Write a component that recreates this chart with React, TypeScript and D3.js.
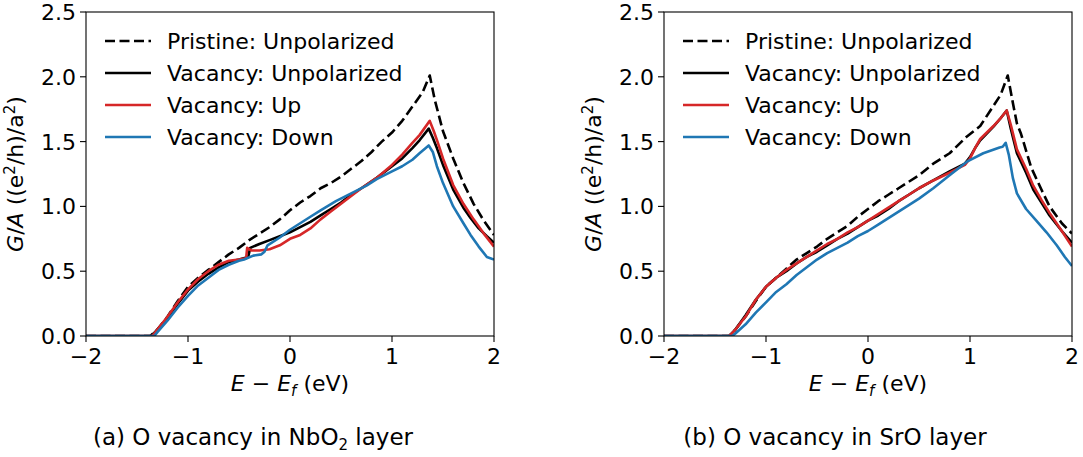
import React from "react";
import * as d3 from "d3";

// ---------- Data: panel (a) O vacancy in NbO2 layer ----------
const A_PRIS_E = [-2, -1.37, -1.3, -1.2, -1.1, -1.0, -0.9, -0.8, -0.7, -0.6, -0.5, -0.4, -0.3, -0.2, -0.1, 0, 0.1, 0.2, 0.3, 0.4, 0.5, 0.6, 0.7, 0.8, 0.9, 1.0, 1.1, 1.2, 1.3, 1.37, 1.42, 1.5, 1.6, 1.7, 1.8, 1.9, 2.0];
const A_PRIS_G = [0, 0, 0.05, 0.15, 0.27, 0.38, 0.45, 0.51, 0.57, 0.63, 0.68, 0.74, 0.79, 0.84, 0.9, 0.97, 1.03, 1.08, 1.14, 1.18, 1.23, 1.29, 1.35, 1.42, 1.5, 1.57, 1.66, 1.77, 1.88, 2.01, 1.82, 1.58, 1.37, 1.18, 1.02, 0.89, 0.78];

const A_UNP_E = [-2, -1.36, -1.3, -1.2, -1.1, -1.0, -0.9, -0.8, -0.7, -0.6, -0.5, -0.41, -0.39, -0.3, -0.2, -0.1, 0, 0.1, 0.2, 0.3, 0.4, 0.5, 0.6, 0.7, 0.85, 1.0, 1.1, 1.2, 1.27, 1.36, 1.4, 1.44, 1.5, 1.6, 1.7, 1.77, 1.85, 1.93, 2.0];
const A_UNP_G = [0, 0, 0.05, 0.14, 0.25, 0.35, 0.42, 0.48, 0.53, 0.57, 0.59, 0.61, 0.68, 0.71, 0.74, 0.77, 0.8, 0.84, 0.88, 0.93, 0.98, 1.03, 1.09, 1.14, 1.22, 1.31, 1.37, 1.45, 1.51, 1.6, 1.53, 1.45, 1.32, 1.13, 0.99, 0.91, 0.83, 0.77, 0.72];

const A_UP_E = [-2, -1.35, -1.3, -1.2, -1.1, -1.0, -0.9, -0.8, -0.7, -0.6, -0.5, -0.43, -0.42, -0.38, -0.3, -0.2, -0.1, 0, 0.1, 0.2, 0.3, 0.4, 0.5, 0.6, 0.7, 0.85, 1.0, 1.1, 1.2, 1.27, 1.37, 1.41, 1.45, 1.5, 1.6, 1.7, 1.8, 1.9, 2.0];
const A_UP_G = [0, 0, 0.05, 0.15, 0.26, 0.36, 0.44, 0.5, 0.55, 0.58, 0.59, 0.6, 0.68, 0.66, 0.66, 0.67, 0.7, 0.75, 0.78, 0.83, 0.9, 0.96, 1.02, 1.08, 1.14, 1.22, 1.32, 1.4, 1.49, 1.55, 1.66, 1.58, 1.49, 1.37, 1.165, 1.02, 0.9, 0.79, 0.69];

const A_DN_E = [-2, -1.33, -1.3, -1.2, -1.1, -1.0, -0.9, -0.8, -0.7, -0.6, -0.5, -0.45, -0.36, -0.28, -0.25, -0.22, -0.1, 0, 0.1, 0.2, 0.3, 0.45, 0.6, 0.75, 0.85, 1.0, 1.1, 1.2, 1.27, 1.36, 1.4, 1.44, 1.5, 1.6, 1.7, 1.77, 1.85, 1.93, 2.0];
const A_DN_G = [0, 0, 0.03, 0.12, 0.22, 0.31, 0.39, 0.45, 0.51, 0.55, 0.58, 0.59, 0.62, 0.63, 0.65, 0.7, 0.76, 0.82, 0.87, 0.92, 0.97, 1.04, 1.1, 1.16, 1.21, 1.27, 1.31, 1.36, 1.41, 1.47, 1.42, 1.31, 1.18, 1.0, 0.87, 0.78, 0.69, 0.61, 0.59];

// ---------- Data: panel (b) O vacancy in SrO layer ----------
const B_PRIS_E = [-2, -1.36, -1.3, -1.2, -1.1, -1.0, -0.9, -0.8, -0.7, -0.6, -0.5, -0.4, -0.3, -0.2, -0.1, 0, 0.1, 0.2, 0.3, 0.4, 0.5, 0.64, 0.8, 0.97, 1.1, 1.2, 1.3, 1.37, 1.42, 1.46, 1.5, 1.6, 1.7, 1.78, 1.9, 2.0];
const B_PRIS_G = [0, 0, 0.05, 0.15, 0.27, 0.38, 0.45, 0.52, 0.59, 0.64, 0.69, 0.75, 0.8, 0.85, 0.92, 0.98, 1.04, 1.09, 1.14, 1.19, 1.24, 1.33, 1.41, 1.54, 1.62, 1.74, 1.86, 2.01, 1.8, 1.64, 1.56, 1.3, 1.13, 1.0, 0.87, 0.79];

const B_UNP_E = [-2, -1.36, -1.3, -1.2, -1.1, -1.0, -0.9, -0.8, -0.7, -0.6, -0.5, -0.4, -0.3, -0.2, -0.1, 0, 0.1, 0.2, 0.3, 0.4, 0.5, 0.64, 0.8, 0.95, 1.0, 1.05, 1.1, 1.23, 1.3, 1.36, 1.4, 1.46, 1.55, 1.62, 1.7, 1.78, 1.9, 2.0];
const B_UNP_G = [0, 0, 0.05, 0.16, 0.28, 0.38, 0.45, 0.5, 0.56, 0.61, 0.65, 0.7, 0.75, 0.79, 0.84, 0.89, 0.93, 0.98, 1.04, 1.09, 1.14, 1.2, 1.27, 1.33, 1.38, 1.45, 1.51, 1.615, 1.68, 1.74, 1.6, 1.41, 1.26, 1.13, 1.03, 0.93, 0.81, 0.72];

const B_UP_E = B_UNP_E;
const B_UP_G = [0, 0, 0.05, 0.15, 0.28, 0.38, 0.45, 0.51, 0.56, 0.61, 0.66, 0.71, 0.75, 0.8, 0.84, 0.89, 0.94, 0.99, 1.04, 1.09, 1.14, 1.2, 1.26, 1.32, 1.37, 1.45, 1.52, 1.62, 1.68, 1.74, 1.63, 1.44, 1.29, 1.16, 1.05, 0.95, 0.81, 0.69];

const B_DN_E = [-2, -1.33, -1.3, -1.2, -1.1, -1.0, -0.9, -0.8, -0.7, -0.6, -0.5, -0.4, -0.3, -0.2, -0.1, 0, 0.1, 0.2, 0.3, 0.4, 0.5, 0.64, 0.8, 0.97, 1.13, 1.29, 1.32, 1.35, 1.38, 1.42, 1.46, 1.55, 1.65, 1.75, 1.85, 1.93, 2.0];
const B_DN_G = [0, 0, 0.02, 0.09, 0.18, 0.26, 0.34, 0.4, 0.47, 0.53, 0.59, 0.64, 0.68, 0.72, 0.77, 0.81, 0.86, 0.91, 0.96, 1.01, 1.06, 1.14, 1.24, 1.345, 1.41, 1.455, 1.46, 1.49, 1.4, 1.22, 1.1, 0.98, 0.89, 0.8, 0.7, 0.61, 0.54];

const X_TICKS = [-2, -1, 0, 1, 2];
const Y_TICKS = [0, 0.5, 1.0, 1.5, 2.0, 2.5];
const LEGEND_LABELS = ["Pristine: Unpolarized", "Vacancy: Unpolarized", "Vacancy: Up", "Vacancy: Down"];
const SERIES_COLORS = ["#000000", "#000000", "#d62728", "#1f77b4"];
const SERIES_DASH = ["10,4.5", null, null, null];

const FONT = "DejaVu Sans, sans-serif";
const FS = 22;

type Series = { e: number[]; g: number[] };

function Panel({ left, series, caption, captionX }: { left: number; series: Series[]; caption: React.ReactNode; captionX: number }) {
  const top = 12;
  const bottom = 336;
  const width = 408;
  const x = d3.scaleLinear().domain([-2, 2]).range([left, left + width]);
  const y = d3.scaleLinear().domain([0, 2.5]).range([bottom, top]);
  const line = d3
    .line<[number, number]>()
    .x((d) => x(d[0]))
    .y((d) => y(d[1]));
  const fmtY = d3.format(".1f");
  const fmtX = (v: number) => (v < 0 ? "\u2212" + Math.abs(v) : String(v));
  const lx0 = left + 19;
  const lx1 = left + 65;
  const ltx = left + 81;
  const lys = [41, 73, 105, 137];
  const order = [0, 1, 2, 3];
  return (
    <g>
      <defs>
        <clipPath id={"clip" + left}>
          <rect x={left} y={top} width={width} height={bottom - top} />
        </clipPath>
      </defs>
      <g clipPath={`url(#clip${left})`}>
        {order.map((i) => (
          <path
            key={i}
            d={line(series[i].e.map((e, k) => [e, series[i].g[k]] as [number, number])) || ""}
            fill="none"
            stroke={SERIES_COLORS[i]}
            strokeWidth={2.6}
            strokeDasharray={SERIES_DASH[i] || undefined}
            strokeLinejoin="round"
          />
        ))}
      </g>
      <rect x={left} y={top} width={width} height={bottom - top} fill="none" stroke="#000" strokeWidth={1.1} />
      {X_TICKS.map((t) => (
        <g key={"x" + t}>
          <line x1={x(t)} x2={x(t)} y1={bottom} y2={bottom + 6} stroke="#000" strokeWidth={1.1} />
          <text x={x(t)} y={bottom + 28} textAnchor="middle" fontFamily={FONT} fontSize={FS}>
            {fmtX(t)}
          </text>
        </g>
      ))}
      {Y_TICKS.map((t) => (
        <g key={"y" + t}>
          <line x1={left - 6} x2={left} y1={y(t)} y2={y(t)} stroke="#000" strokeWidth={1.1} />
          <text x={left - 10} y={y(t) + 8} textAnchor="end" fontFamily={FONT} fontSize={FS}>
            {fmtY(t)}
          </text>
        </g>
      ))}
      <text
        transform={`translate(${left - 63},${(top + bottom) / 2}) rotate(-90)`}
        textAnchor="middle"
        fontFamily={FONT}
        fontSize={FS}
      >
        <tspan fontStyle="italic">G</tspan>
        <tspan>/</tspan>
        <tspan fontStyle="italic">A</tspan>
        <tspan> ((e</tspan>
        <tspan fontSize={15} dy={-8}>2</tspan>
        <tspan dy={8}>/h)/a</tspan>
        <tspan fontSize={15} dy={-8}>2</tspan>
        <tspan dy={8}>)</tspan>
      </text>
      <text x={left + width / 2} y={391} textAnchor="middle" fontFamily={FONT} fontSize={FS}>
        <tspan fontStyle="italic">E</tspan>
        <tspan> {"\u2212"} </tspan>
        <tspan fontStyle="italic">E</tspan>
        <tspan fontStyle="italic" fontSize={15} dy={5}>f</tspan>
        <tspan dy={-5}> (eV)</tspan>
      </text>
      {LEGEND_LABELS.map((lab, i) => (
        <g key={lab}>
          <line
            x1={lx0}
            x2={lx1}
            y1={lys[i]}
            y2={lys[i]}
            stroke={SERIES_COLORS[i]}
            strokeWidth={2.6}
            strokeDasharray={SERIES_DASH[i] || undefined}
          />
          <text x={ltx} y={lys[i] + 8} fontFamily={FONT} fontSize={FS}>
            {lab}
          </text>
        </g>
      ))}
      <text x={captionX} y={445} textAnchor="middle" fontFamily={FONT} fontSize={23}>
        {caption}
      </text>
    </g>
  );
}

export default function App() {
  const seriesA: Series[] = [
    { e: A_PRIS_E, g: A_PRIS_G },
    { e: A_UNP_E, g: A_UNP_G },
    { e: A_UP_E, g: A_UP_G },
    { e: A_DN_E, g: A_DN_G },
  ];
  const seriesB: Series[] = [
    { e: B_PRIS_E, g: B_PRIS_G },
    { e: B_UNP_E, g: B_UNP_G },
    { e: B_UP_E, g: B_UP_G },
    { e: B_DN_E, g: B_DN_G },
  ];
  return (
    <svg
      width={1083}
      height={457}
      viewBox="0 0 1083 457"
      style={{ position: "absolute", left: 0, top: 0, background: "#fff" }}
    >
      <rect x={0} y={0} width={1083} height={457} fill="#fff" />
      <Panel
        left={86}
        captionX={253}
        series={seriesA}
        caption={
          <>
            <tspan>(a) O vacancy in NbO</tspan>
            <tspan fontSize={15} dy={5}>2</tspan>
            <tspan dy={-5}> layer</tspan>
          </>
        }
      />
      <Panel
        left={664}
        captionX={835}
        series={seriesB}
        caption={
          <>
            <tspan>(b) O vacancy in SrO layer</tspan>
          </>
        }
      />
    </svg>
  );
}
